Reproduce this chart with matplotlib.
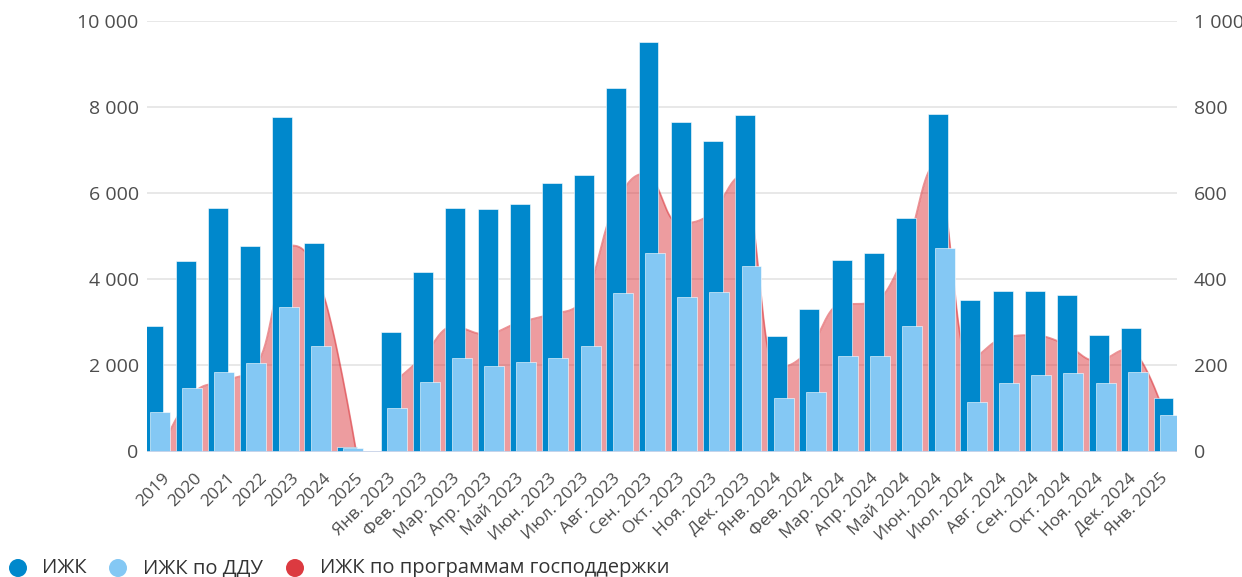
import numpy as np
import matplotlib
matplotlib.use("Agg")
import matplotlib.pyplot as plt
from matplotlib.patches import Ellipse
import matplotlib.transforms as mtransforms

plt.rcParams['font.family'] = ['Open Sans', 'DejaVu Sans']

# ---------------- data ----------------
categories = ['2019', '2020', '2021', '2022', '2023', '2024', '2025',
              'Янв. 2023', 'Фев. 2023', 'Мар. 2023', 'Апр. 2023', 'Май 2023',
              'Июн. 2023', 'Июл. 2023', 'Авг. 2023', 'Сен. 2023', 'Окт. 2023',
              'Ноя. 2023', 'Дек. 2023', 'Янв. 2024', 'Фев. 2024', 'Мар. 2024',
              'Апр. 2024', 'Май 2024', 'Июн. 2024', 'Июл. 2024', 'Авг. 2024',
              'Сен. 2024', 'Окт. 2024', 'Ноя. 2024', 'Дек. 2024', 'Янв. 2025']
n_years = 7  # first 7 categories are yearly totals, the rest are months

izhk = [2920, 4410, 5640, 4770, 7750, 4840, 110,
        2780, 4170, 5640, 5615, 5740, 6220, 6410, 8440, 9500, 7640, 7200, 7810,
        2680, 3310, 4450, 4600, 5410, 7840, 3510, 3715, 3715, 3640, 2710, 2870, 1250]
izhk_ddu = [910, 1480, 1850, 2050, 3345, 2450, 70,
            1010, 1610, 2180, 1980, 2080, 2180, 2450, 3670, 4610, 3580, 3705, 4310,
            1250, 1380, 2210, 2210, 2910, 4710, 1145, 1585, 1775, 1815, 1585, 1855, 850]
gos_support = [15, 140, 165, 215, 478, 360, 0,
               150, 215, 290, 272, 298, 318, 345, 565, 645, 530, 550, 640,
               195, 230, 340, 345, 450, 665, 215, 260, 270, 250, 210, 238, 110]

series_names = ['ИЖК', 'ИЖК по ДДУ', 'ИЖК по программам господдержки']
c_dark = '#0088cc'
c_light = '#84c8f4'
c_red = '#dc3a40'

# ---------------- helpers ----------------
def hc_spline(xs, ys, smoothing=1.5, nseg=40):
    """Highcharts-style spline through points."""
    n = len(xs)
    lc = [(xs[i], ys[i]) for i in range(n)]
    rc = [(xs[i], ys[i]) for i in range(n)]
    for i in range(1, n - 1):
        lx, ly = xs[i - 1], ys[i - 1]
        nx, ny = xs[i + 1], ys[i + 1]
        px, py = xs[i], ys[i]
        d = smoothing + 1
        lcx = (smoothing * px + lx) / d
        lcy = (smoothing * py + ly) / d
        rcx = (smoothing * px + nx) / d
        rcy = (smoothing * py + ny) / d
        if rcx != lcx:
            corr = ((rcy - lcy) * (rcx - px)) / (rcx - lcx) + py - rcy
            lcy += corr
            rcy += corr
        if lcy > ly and lcy > py:
            lcy = max(ly, py); rcy = 2 * py - lcy
        elif lcy < ly and lcy < py:
            lcy = min(ly, py); rcy = 2 * py - lcy
        if rcy > ny and rcy > py:
            rcy = max(ny, py); lcy = 2 * py - rcy
        elif rcy < ny and rcy < py:
            rcy = min(ny, py); lcy = 2 * py - rcy
        lc[i] = (lcx, lcy)
        rc[i] = (rcx, rcy)
    t = np.linspace(0, 1, nseg)
    ox, oy = [xs[0]], [ys[0]]
    for i in range(1, n):
        p0 = np.array([xs[i - 1], ys[i - 1]])
        p1 = np.array(rc[i - 1])
        p2 = np.array(lc[i])
        p3 = np.array([xs[i], ys[i]])
        b = ((1 - t) ** 3)[:, None] * p0 + (3 * (1 - t) ** 2 * t)[:, None] * p1 \
            + (3 * (1 - t) * t ** 2)[:, None] * p2 + (t ** 3)[:, None] * p3
        ox.extend(b[1:, 0]); oy.extend(b[1:, 1])
    return np.array(ox), np.array(oy)

def fmt(v):
    return f'{int(v):,}'.replace(',', ' ')

# ---------------- figure ----------------
W, H = 1242, 577
fig = plt.figure(figsize=(W / 100, H / 100), dpi=100)
ax_l, ax_r, ax_t, ax_b = 147, 1177, 20.5, 451.5
ax = fig.add_axes([ax_l / W, 1 - ax_b / H, (ax_r - ax_l) / W, (ax_b - ax_t) / H])
ax2 = ax.twinx()

x = np.arange(len(categories))
bw = 0.62
is_year = x < n_years
off_dark = np.where(is_year, -0.30, 0.08)
off_light = np.where(is_year, -0.10, 0.28)

# red area (right axis), drawn behind the bars
ax2.set_zorder(0)
ax.set_zorder(1)
ax.patch.set_visible(False)
for seg in (slice(0, n_years), slice(n_years, len(categories))):
    sx, sy = hc_spline(list(x[seg].astype(float)), list(np.array(gos_support[seg], float)))
    ax2.fill_between(sx, sy, 0, color=c_red, alpha=0.5, linewidth=0, zorder=2)
    ax2.plot(sx, sy, color=c_red, alpha=0.55, linewidth=1.3, zorder=3)

for v in range(0, 1001, 200):
    ax2.axhline(v, color='#e6e6e6', linewidth=1.3, zorder=1)

ax.bar(x + off_dark, izhk, width=bw, color=c_dark, edgecolor='#ffffff', linewidth=0.4, zorder=3)
ax.bar(x + off_light, izhk_ddu, width=bw, color=c_light, edgecolor='#ffffff', linewidth=0.4, zorder=4)

ax.set_xlim(-0.5, len(categories) - 0.5)
ax.set_ylim(0, 10000)
ax2.set_ylim(0, 1000)

for a in (ax, ax2):
    for s in a.spines.values():
        s.set_visible(False)
    a.tick_params(length=0)

ax.set_yticks(range(0, 10001, 2000))
ax.set_yticklabels([fmt(v) for v in range(0, 10001, 2000)], fontsize=14, color='#4d4d4d')
ax.tick_params(axis='y', pad=6)
ax2.set_yticks(range(0, 1001, 200))
ax2.set_yticklabels([fmt(v) for v in range(0, 1001, 200)], fontsize=14, color='#4d4d4d')
ax2.tick_params(axis='y', pad=12)
for lbl in ax2.get_yticklabels():
    lbl.set_horizontalalignment('left')

ax.axhline(0, color='#ccd6eb', linewidth=1.3, zorder=5)

ax.set_xticks([])
trans = mtransforms.offset_copy(ax.get_xaxis_transform(), fig=fig, x=-1, y=-19, units='dots')
for xi, lab in zip(x, categories):
    ax.text(xi, 0, lab, transform=trans, rotation=45, ha='right', va='top',
            rotation_mode='anchor', fontsize=12.5, color='#4d4d4d')

# legend
leg_y = 568
items = [(18, 42, c_dark, series_names[0]), (118, 143, c_light, series_names[1]),
         (295, 320, c_red, series_names[2])]
for cx, tx, col, name in items:
    fig.patches.append(Ellipse((cx / W, 1 - leg_y / H), width=18 / W, height=18 / H,
                               transform=fig.transFigure, facecolor=col, edgecolor='none'))
    fig.text(tx / W, 1 - leg_y / H, name, fontsize=14.5, color='#333333', va='center', ha='left')

fig.savefig('out.png', dpi=100)
